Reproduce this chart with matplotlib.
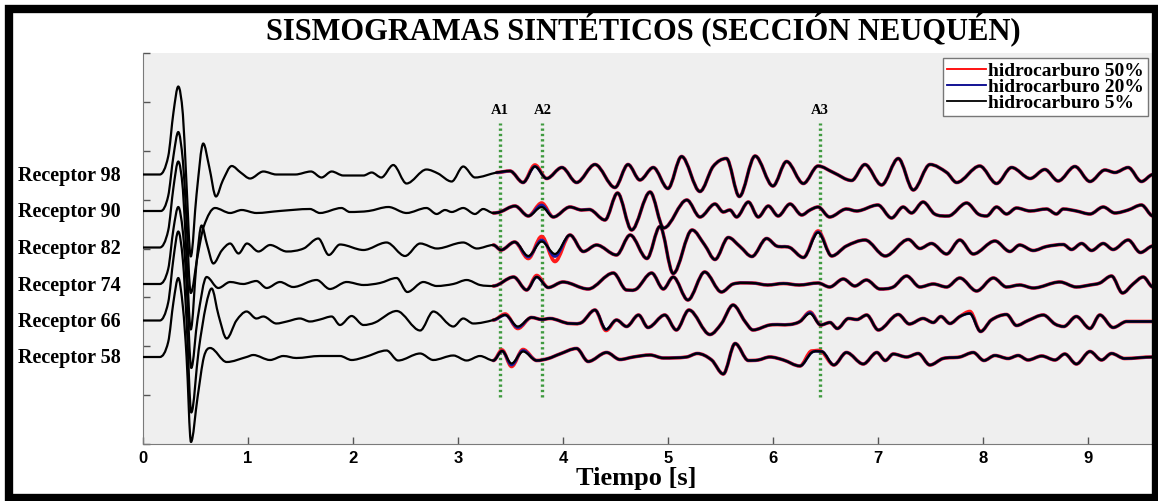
import numpy as np
import matplotlib.pyplot as plt
from matplotlib.lines import Line2D
from matplotlib.patches import Rectangle, PathPatch
from matplotlib.path import Path
from matplotlib.transforms import blended_transform_factory

# receptores de arriba hacia abajo
receptores = [98, 90, 82, 74, 66, 58]

# trazas (tiempo [s], amplitud) para hidrocarburo 5% (negro)
r98 = [(0, 0), (0.16, 0), (0.24, 18), (0.29, 62), (0.336, 88), (0.38, 60), (0.41, 0), (0.455, -82), (0.51, -20),
       (0.574, 31), (0.63, 8), (0.695, -22), (0.76, -6), (0.845, 8.5), (0.93, 2), (1.02, -4), (1.146, 3), (1.27, 0),
       (1.45, 0), (1.6, 3), (1.7, -3), (1.797, 3), (1.908, -1), (2.1, -1), (2.178, 2), (2.27, -3), (2.384, 9.5),
       (2.51, -9), (2.7, 5), (2.81, 1), (2.94, -7), (3.05, 8), (3.162, -3), (3.37, 2), (3.495, 3.5), (3.62, -8),
       (3.733, 8), (3.845, -4), (3.99, 7), (4.13, -8), (4.305, 10), (4.495, -13), (4.62, 10), (4.733, -5.5),
       (4.86, 7), (5.0, -14), (5.13, 18), (5.305, -17), (5.43, 8), (5.557, 16), (5.68, -22), (5.83, 18.5),
       (6.0, -11.5), (6.13, 13), (6.29, -9), (6.43, 8.5), (6.575, 2), (6.75, -6), (6.876, 10), (7.035, -10.5),
       (7.194, 16), (7.337, -15.5), (7.496, 10), (7.655, 2), (7.75, -8), (7.97, 8.5), (8.13, -9), (8.273, 7),
       (8.45, -4), (8.59, 5), (8.717, -6.5), (8.876, 8), (9.02, -7), (9.162, 4.5), (9.257, 2), (9.384, 7),
       (9.51, -7), (9.62, 0)]
r90 = [(0, 0), (0.17, 0), (0.24, 15), (0.29, 55), (0.336, 79), (0.38, 50), (0.41, 0), (0.455, -82), (0.52, -45),
       (0.58, -15), (0.686, 3), (0.83, -2), (0.94, 1), (1.08, -2), (1.3, 0), (1.59, 2), (1.685, -2), (1.89, 3),
       (1.97, -1), (2.15, 0), (2.337, 4), (2.51, -2), (2.7, 3), (2.797, -3), (2.877, 1), (2.94, -1), (3.05, 3),
       (3.162, -3), (3.24, 2), (3.337, -2), (3.4, -1), (3.543, 5), (3.67, -5), (3.797, 4), (3.908, -6),
       (4.067, 4), (4.178, 1), (4.25, 1.5), (4.4, -9), (4.52, 18), (4.654, -19), (4.83, 19), (4.96, -17),
       (5.18, 11), (5.305, -6), (5.448, 7), (5.527, -1), (5.59, 1), (5.654, -6), (5.766, 9), (5.86, -6),
       (5.956, 5), (6.05, -5), (6.163, 7), (6.274, -4), (6.353, 1), (6.43, 4), (6.54, -6), (6.7, 2), (6.797, 0),
       (7.0, 6), (7.13, -7), (7.24, 4), (7.32, -2), (7.43, 9), (7.54, -3), (7.67, -5), (7.845, 8), (7.955, -3),
       (8.035, -5), (8.13, 4), (8.225, -3), (8.32, 3), (8.45, 0), (8.606, 2), (8.7, -3), (8.765, 2), (8.89, 0),
       (9.02, -3), (9.146, 4), (9.257, -2), (9.384, 1), (9.51, 6), (9.62, -5)]
r82 = [(0, 0), (0.16, 0), (0.24, 17), (0.29, 60), (0.336, 86), (0.38, 58), (0.41, 0), (0.455, -82), (0.51, -15),
       (0.558, 22), (0.61, 3), (0.67, -16), (0.75, -3), (0.83, 4), (0.91, -6), (0.99, 4), (1.1, -4), (1.21, 2.5),
       (1.37, -4), (1.53, -1), (1.67, 9), (1.77, -7.5), (1.876, 3), (2.1, -2.5), (2.32, 5), (2.496, -8.5),
       (2.64, 4), (2.8, -1), (3.05, 5), (3.18, -1), (3.337, 2.5), (3.41, -2.5), (3.54, 5.5), (3.67, -8.5),
       (3.797, 6), (3.924, -6.5), (4.067, 12.5), (4.194, -4), (4.32, 2.5), (4.51, -7.5), (4.64, 12.5), (4.8, -11),
       (4.924, 21), (5.05, -26), (5.23, 17.5), (5.35, 2.5), (5.448, -12), (5.575, 10), (5.686, 1), (5.8, -9),
       (5.94, 9), (6.035, 1.5), (6.16, 0), (6.29, -10), (6.43, 15), (6.56, -8.5), (6.7, 1.5), (6.877, 7.5),
       (7.07, -8.5), (7.29, 8), (7.4, -1), (7.51, 4), (7.654, -6.5), (7.78, 7.5), (7.908, -6.5), (8.115, 6.5),
       (8.257, -4), (8.35, 2.5), (8.48, -3), (8.606, 1), (8.765, 3), (8.844, -2), (8.94, 4), (9.035, -3),
       (9.146, 4), (9.24, -2), (9.384, 7.5), (9.5, -5), (9.62, 1.5)]
r74 = [(0, 0), (0.16, 0), (0.24, 15), (0.29, 55), (0.336, 77), (0.38, 52), (0.415, 0), (0.46, -84), (0.52, -35),
       (0.606, 7), (0.717, -4), (0.83, 2), (0.955, 0), (1.08, 3), (1.178, -4), (1.305, 2), (1.43, -3), (1.654, 4),
       (1.78, -5), (1.94, 2), (2.1, -1), (2.257, 1), (2.416, 6), (2.518, -8), (2.67, 2), (2.797, -2), (2.956, 0),
       (3.083, 4), (3.21, -1), (3.337, -2), (3.53, 7), (3.654, -6), (3.75, 7), (3.86, -3.5), (4.0, 2), (4.24, -5),
       (4.48, 11), (4.606, -6), (4.7, -5), (4.845, 11), (4.956, -5), (5.05, 7), (5.19, -16), (5.35, 12),
       (5.51, -8), (5.62, 0), (5.8, 1), (5.95, -1), (6.1, 0.5), (6.25, -1), (6.43, 1), (6.54, -3), (6.67, 5),
       (6.78, -2), (6.89, 4), (7.02, -5), (7.146, -3), (7.273, 8), (7.4, -3), (7.527, 0), (7.654, -3), (7.78, 6),
       (7.94, -7), (8.1, 6), (8.225, -3), (8.35, -1), (8.48, -4), (8.733, 2), (8.89, -3), (9.02, -1), (9.114, 1),
       (9.225, 8), (9.33, -9), (9.43, 0), (9.527, 7), (9.62, -3)]
r66 = [(0, 0), (0.16, 0), (0.24, 18), (0.29, 62), (0.336, 89), (0.38, 60), (0.415, 0), (0.46, -92), (0.53, -30),
       (0.6, 15), (0.654, 32), (0.72, 5), (0.797, -18), (0.89, 0), (0.987, 9), (1.08, 2), (1.146, 4), (1.27, -3),
       (1.37, -1), (1.495, 2), (1.59, -1), (1.686, 1), (1.797, 4), (1.876, -4.5), (1.987, 4.5), (2.1, -4.5),
       (2.21, -2), (2.416, 9.5), (2.64, -10), (2.765, 9), (2.956, -6), (3.05, 2), (3.146, -3), (3.337, 0.5),
       (3.45, 5.5), (3.57, -6), (3.7, 3), (3.8, 1), (3.876, 2), (4.067, -3), (4.178, -2), (4.305, 10.5),
       (4.41, -9), (4.51, 0.5), (4.606, -6), (4.72, 5.5), (4.81, -7), (4.97, 5.5), (5.08, -9.5), (5.2, 10.5),
       (5.4, -14), (5.51, -3), (5.62, 15.5), (5.734, -1), (5.81, -9.5), (5.97, -4.5), (6.163, -4), (6.257, -1),
       (6.353, 7), (6.455, -4.5), (6.544, -2), (6.613, -8), (6.72, 2), (6.8, 1), (6.893, 5.5), (7.004, -9.5),
       (7.194, 6), (7.3, -3.5), (7.43, 2), (7.527, -2), (7.6, 4), (7.686, -3), (7.78, 4), (7.876, 7),
       (7.978, -11), (8.08, 0.5), (8.225, 6), (8.32, -5), (8.43, 0), (8.575, 5.5), (8.686, -3.5), (8.77, -6),
       (8.89, 4), (9.02, -8), (9.114, 5.5), (9.24, -7), (9.37, -1), (9.62, -1)]
r58 = [(0, 0), (0.16, 0), (0.24, 15), (0.29, 55), (0.336, 79), (0.38, 50), (0.415, 0), (0.457, -85), (0.52, -40),
       (0.58, 0), (0.64, 9), (0.797, -5), (0.987, 0), (1.05, 2), (1.21, -3), (1.337, 1), (1.46, -1), (1.686, 1),
       (1.876, 1), (1.987, -3), (2.115, 0), (2.32, 6.5), (2.43, -3.5), (2.64, 3.5), (2.765, -3), (2.956, 1.5),
       (3.083, -3.5), (3.21, 1), (3.337, -3.5), (3.42, 6), (3.51, -6.5), (3.62, 5.5), (3.75, -3.5), (3.86, -1.5),
       (3.97, 3), (4.13, 8.5), (4.24, -4.5), (4.416, 4.5), (4.543, -2.5), (4.67, 0), (4.83, 2), (4.956, -1),
       (5.178, 0), (5.28, 3.5), (5.416, -3), (5.527, -17), (5.64, 13.5), (5.766, -3.5), (5.86, -3), (5.97, 0),
       (6.1, -3), (6.257, -9), (6.37, 4.5), (6.464, 5.5), (6.58, -8), (6.7, 4.5), (6.86, -7), (6.99, 4.5),
       (7.07, -3.5), (7.146, 3), (7.273, 0), (7.384, 3.5), (7.495, -8), (7.62, -1.5), (7.78, 0), (7.908, 4.5),
       (8.01, -3.5), (8.114, 1.5), (8.24, -1.5), (8.336, 1.5), (8.43, -3), (8.56, 1), (8.686, -3), (8.78, 3),
       (8.89, -7), (9.02, 5.5), (9.13, -3), (9.225, 3.5), (9.35, -1.5), (9.62, 0)]
trazas = [r98, r90, r82, r74, r66, r58]

# donde 50% y 20% se separan del 5% (tiempo, amplitud)
c98_50 = [(3.733, 9.5)]
c98_20 = []
c90_50 = [(3.797, 8)]
c90_20 = [(3.797, 6)]
c82_50 = [(3.67, -11), (3.797, 11), (3.924, -14), (6.43, 16.5)]
c82_20 = [(3.67, -9.5), (3.797, 7.5), (3.924, -9), (6.43, 15.5)]
c74_50 = [(3.75, 8.5)]
c74_20 = []
c66_50 = [(3.45, 6.5), (3.57, -8), (4.41, -10), (6.353, 8.5), (7.876, 9)]
c66_20 = [(3.57, -7), (6.353, 8)]
c58_50 = [(3.42, 7), (3.51, -9.5), (3.62, 7.5), (6.37, 6)]
c58_20 = [(3.51, -8), (3.62, 6.5)]
cambios_50 = [c98_50, c90_50, c82_50, c74_50, c66_50, c58_50]
cambios_20 = [c98_20, c90_20, c82_20, c74_20, c66_20, c58_20]

# marcas verticales
marcas = ['A1', 'A2', 'A3']
t_marcas = [3.40, 3.805, 6.45]

t_inicio_dif = 3.3
separacion = 36.5


def serie(puntos, cambios, desde=0.0):
    cambio = dict(cambios)
    t = np.array([p[0] for p in puntos if p[0] >= desde])
    a = np.array([cambio.get(p[0], p[1]) for p in puntos if p[0] >= desde])
    return t, a


def trazo(t, a):
    # curva suave (bezier) que pasa por los puntos leidos, plana en picos y valles
    m = np.zeros(len(a))
    for i in range(1, len(a) - 1):
        if (a[i] - a[i - 1]) * (a[i + 1] - a[i]) > 0:
            m[i] = (a[i + 1] - a[i - 1]) / (t[i + 1] - t[i - 1])
    verts = [(t[0], a[0])]
    codes = [Path.MOVETO]
    for i in range(len(a) - 1):
        h = t[i + 1] - t[i]
        verts += [(t[i] + h / 3, a[i] + m[i] * h / 3), (t[i + 1] - h / 3, a[i + 1] - m[i + 1] * h / 3),
                  (t[i + 1], a[i + 1])]
        codes += [Path.CURVE4] * 3
    return Path(verts, codes)


fig = plt.figure(figsize=(11.58, 5.01), dpi=100)
ax = fig.add_axes([143 / 1158, 57 / 501, 1010 / 1158, 391 / 501])
ax.set_facecolor('#efefef')

n = len(receptores)
for i, (rec, puntos) in enumerate(zip(receptores, trazas)):
    base = separacion * (n - i)
    t, a = serie(puntos, cambios_50[i], t_inicio_dif)
    ax.add_patch(PathPatch(trazo(t, a + base), fill=False, edgecolor='#ff1a1a', lw=2.6,
                           joinstyle='round', capstyle='round', zorder=2))
    t, a = serie(puntos, cambios_20[i], t_inicio_dif)
    ax.add_patch(PathPatch(trazo(t, a + base), fill=False, edgecolor='#1a1aa0', lw=2.0,
                           joinstyle='round', capstyle='round', zorder=3))
    t, a = serie(puntos, [])
    ax.add_patch(PathPatch(trazo(t, a + base), fill=False, edgecolor='black', lw=1.6,
                           joinstyle='round', capstyle='round', zorder=4))

y0, y1 = separacion - 87, separacion - 87 + 391
ax.set_xlim(0, 9.62)
ax.set_ylim(y0, y1)

# lineas verdes A1, A2, A3
for nombre, tm in zip(marcas, t_marcas):
    ax.plot([tm, tm], [y0 + 47, y0 + 321], color='#3f9a3f', lw=2.4, ls=(0, (0.7, 0.9)), zorder=1)
    ax.text(tm, y0 + 333.5, nombre, ha='center', va='center', fontsize=10.5,
            family='Liberation Serif', fontweight='bold')

# etiquetas de receptores
trans = blended_transform_factory(fig.transFigure, ax.transData)
for i, rec in enumerate(receptores):
    ax.text(18 / 1158, separacion * (n - i) - 1.5, f'Receptor {rec}', transform=trans, ha='left', va='center',
            fontsize=14.5, family='Liberation Serif', fontweight='bold', clip_on=False)

for s in ['top', 'right']:
    ax.spines[s].set_visible(False)
for s in ['left', 'bottom']:
    ax.spines[s].set_color('#7a7a7a')

ax.set_xticks(range(10))
ax.set_xticklabels([str(k) for k in range(10)], fontsize=12, family='Liberation Sans', fontweight='bold')
ax.set_yticks(np.linspace(y0, y1, 9))
ax.set_yticklabels([])
ax.tick_params(direction='in', length=5, width=1, color='#555555', pad=5)

ax.set_xlabel('Tiempo [s]', fontsize=19, family='Liberation Serif', fontweight='bold')
ax.xaxis.set_label_coords(0.488, -0.058)

fig.text(643 / 1158, 1 - 30 / 501, 'SISMOGRAMAS SINTÉTICOS (SECCIÓN NEUQUÉN)', ha='center', va='center',
         fontsize=22, family='Liberation Serif', fontweight='bold')

# leyenda
handles = [Line2D([], [], color='red', lw=1.3), Line2D([], [], color='#00008b', lw=1.3),
           Line2D([], [], color='black', lw=1.3)]
ax.legend(handles, ['hidrocarburo 50%', 'hidrocarburo 20%', 'hidrocarburo 5%'], loc='upper right',
          bbox_to_anchor=(0.995, 0.987), prop=dict(family='Liberation Serif', weight='bold', size=14),
          fancybox=False, framealpha=1, edgecolor='#777777', handlelength=2.0, handletextpad=0.1,
          borderpad=0.2, labelspacing=-0.08, borderaxespad=0)

# marco negro
fig.add_artist(Rectangle((9 / 1158, 3 / 501), 1147 / 1158, 489 / 501, transform=fig.transFigure,
                         fill=False, edgecolor='black', lw=6))

fig.savefig('out.png', dpi=100)
